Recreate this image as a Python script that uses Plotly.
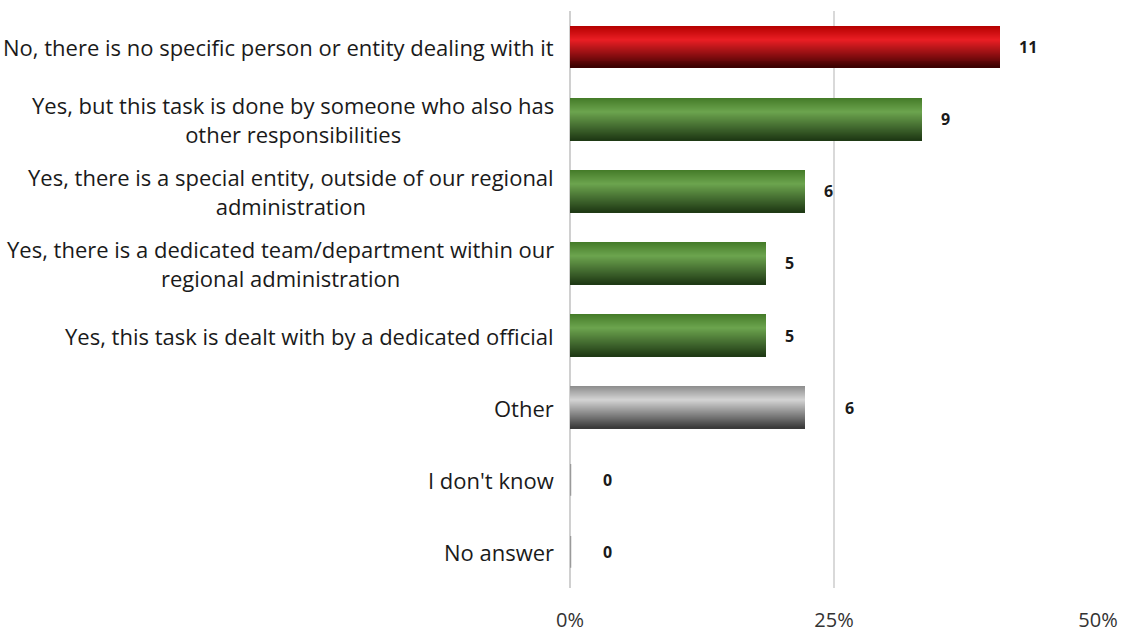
import numpy as np
import plotly.graph_objects as go

# Survey answers (top to bottom), respondent counts and number of respondents
categories = [
    "No, there is no specific person or entity dealing with it",
    "Yes, but this task is done by someone who also has<br>other responsibilities",
    "Yes, there is a special entity, outside of our regional<br>administration",
    "Yes, there is a dedicated team/department within our<br>regional administration",
    "Yes, this task is dealt with by a dedicated official",
    "Other",
    "I don't know",
    "No answer",
]
counts = [11, 9, 6, 5, 5, 6, 0, 0]
respondents = 27
x_ticks = [0, 0.25, 0.5]
x_tick_labels = ["0%", "25%", "50%"]

# colour family for each answer
families = ["red", "green", "green", "green", "green", "grey", "grey", "grey"]

# cylinder shading: (top, highlight, bottom) colours
shades = {
    "red": ((180, 0, 0), (234, 30, 36), (58, 0, 0)),
    "green": ((68, 122, 40), (108, 164, 78), (30, 56, 20)),
    "grey": ((140, 140, 140), (212, 212, 212), (56, 56, 56)),
}

FONT = "Open Sans"
pct = [c / respondents for c in counts]
pos = np.arange(len(categories))

bar_thickness = 0.58
n_bands = 42
band_w = bar_thickness / n_bands


def shade(family, t):
    top, hi, bot = shades[family]
    h = 0.33
    if t <= h:
        a, b, f = top, hi, t / h
    else:
        a, b, f = hi, bot, (t - h) / (1 - h)
    return "rgb(%d,%d,%d)" % tuple(round(a[i] + (b[i] - a[i]) * f) for i in range(3))


fig = go.Figure()

# each bar is built from thin horizontal slices to give the rounded shading
for i in range(n_bands):
    t = (i + 0.5) / n_bands
    fig.add_trace(go.Bar(
        y=pos - bar_thickness / 2 + (i + 0.5) * band_w,
        x=pct,
        width=band_w * 1.02,
        orientation="h",
        marker=dict(color=[shade(f, t) for f in families], line=dict(width=0)),
        hoverinfo="skip",
        showlegend=False,
    ))

# end caps for answers nobody chose
for p, v in zip(pos, pct):
    if v == 0:
        fig.add_trace(go.Scatter(
            x=[v, v], y=[p - 0.22, p + 0.22], mode="lines",
            line=dict(color="#9a9a9a", width=2.5),
            hoverinfo="skip", showlegend=False,
        ))

# count labels to the right of each bar
label_gap = {5: 38, 6: 31, 7: 31}
for k, (p, v, c) in enumerate(zip(pos, pct, counts)):
    fig.add_annotation(
        x=v, y=p, xref="x", yref="y", text="<b>%d</b>" % c,
        showarrow=False, xanchor="left", xshift=label_gap.get(k, 17),
        font=dict(family=FONT, size=16, color="#1a1a1a"),
    )

# category labels, lines centred within each label
for p, cat in zip(pos, categories):
    fig.add_annotation(
        x=0, y=p, xref="paper", yref="y", text=cat, showarrow=False,
        xanchor="right", align="center", xshift=-14,
        font=dict(family=FONT, size=22, color="#1a1a1a"),
    )

fig.update_layout(
    width=1124, height=635,
    margin=dict(l=570, r=26, t=11, b=47),
    paper_bgcolor="white", plot_bgcolor="white",
    barmode="overlay", bargap=0,
    xaxis=dict(
        range=[0, 0.5], tickvals=x_ticks, ticktext=x_tick_labels,
        showgrid=True, gridcolor="#d9d9d9", gridwidth=1.5,
        zeroline=True, zerolinecolor="#d0d0d0", zerolinewidth=1.5,
        showline=False, ticks="", ticklabelstandoff=18, automargin=False,
        tickfont=dict(family=FONT, size=20, color="#333333"),
    ),
    yaxis=dict(
        range=[len(categories) - 0.5, -0.5], automargin=False,
        showticklabels=False, showgrid=False, zeroline=False, showline=False,
    ),
)

fig.write_html("out.html")
